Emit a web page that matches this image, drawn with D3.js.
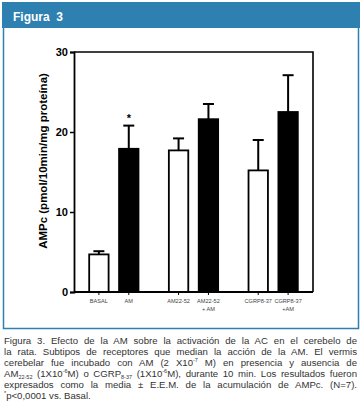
<!DOCTYPE html>
<html><head><meta charset="utf-8">
<script src="https://cdn.jsdelivr.net/npm/d3@7"></script>
<style>
html,body{margin:0;padding:0;background:#fff;}
svg{display:block;font-family:"Liberation Sans",Arial,Helvetica,sans-serif;}
</style></head>
<body>
<svg id="c" width="363" height="412"></svg>
<script>
const groups = ["basal", "am2252", "cgrp837"];
const categories = ["BASAL", "AM", "AM22-52", "AM22-52|+ AM", "CGRP8-37", "CGRP8-37|+AM"];
const groupOf = ["basal", "basal", "am2252", "am2252", "cgrp837", "cgrp837"];
const slotOf = [0, 1, 0, 1, 0, 1];
const means = [4.7, 17.9, 17.7, 21.6, 15.2, 22.5];
const errors = [0.4, 2.9, 1.5, 1.9, 3.8, 4.6];
const filled = [false, true, false, true, false, true];
const significance = ["", "*", "", "", "", ""];
const yTicks = [0, 10, 20, 30];
const yTitle = "AMPc (pmol/10min/mg proteína)";
const headerTitle = "Figura  3";

const blue = "#2d80b0";
const svg = d3.select("#c");

// header & frame
svg.append("rect").attr("x", 2).attr("y", 2).attr("width", 358).attr("height", 26).attr("fill", blue);
svg.append("text").attr("x", 13).attr("y", 21).attr("fill", "#fff").attr("font-weight", "bold")
  .attr("font-size", 12).style("white-space", "pre").text(headerTitle);
svg.append("path").attr("d", "M3.5,28 V328.5 H358.5 V28").attr("fill", "none").attr("stroke", blue).attr("stroke-width", 1.5);

// scales
const x0 = d3.scaleBand().domain(groups).range([74, 313]).paddingInner(0.25).paddingOuter(0.125);
const x1 = d3.scaleBand().domain([0, 1]).range([0, x0.bandwidth()]).paddingInner(0.3).paddingOuter(0.15);
const y = d3.scaleLinear().domain([0, 30]).range([292, 52]);
const cx = i => x0(groupOf[i]) + x1(slotOf[i]) + x1.bandwidth() / 2;

const g = svg.append("g");
const bw = x1.bandwidth();
means.forEach((v, i) => {
  const c = cx(i);
  g.append("line").attr("x1", c).attr("x2", c).attr("y1", y(v)).attr("y2", y(v + errors[i]))
    .attr("stroke", "#000").attr("stroke-width", 2);
  g.append("line").attr("x1", c - 5.5).attr("x2", c + 5.5).attr("y1", y(v + errors[i])).attr("y2", y(v + errors[i]))
    .attr("stroke", "#000").attr("stroke-width", 2);
  g.append("rect").attr("x", c - bw / 2 + 0.75).attr("width", bw - 1.5)
    .attr("y", y(v)).attr("height", y(0) - y(v))
    .attr("fill", filled[i] ? "#000" : "#fff").attr("stroke", "#000").attr("stroke-width", 1.8);
  if (significance[i]) {
    g.append("text").attr("x", c).attr("y", y(v + errors[i]) - 4).attr("text-anchor", "middle")
      .attr("font-size", 11).attr("font-weight", "bold").text(significance[i]);
  }
});

svg.append("path").attr("d", `M74,${y(30)} H313 V${y(0)}`).attr("fill", "none").attr("stroke", "#000").attr("stroke-width", 1.6);

const ya = svg.append("g").attr("transform", "translate(74,0)")
  .call(d3.axisLeft(y).tickValues(yTicks).tickSize(4).tickPadding(2));
ya.select(".domain").attr("stroke-width", 1.8);
ya.selectAll(".tick line").attr("stroke-width", 1.5);
ya.selectAll("text").attr("font-size", 11).attr("font-weight", "bold").attr("fill", "#000")
  .attr("font-family", "'Liberation Sans',Arial,sans-serif");

const xa = svg.append("g").attr("transform", `translate(0,${y(0)})`);
xa.append("line").attr("x1", 74).attr("x2", 313).attr("stroke", "#000").attr("stroke-width", 1.8);
categories.forEach((lab, i) => {
  const c = cx(i);
  xa.append("line").attr("x1", c).attr("x2", c).attr("y1", 0).attr("y2", 3).attr("stroke", "#000").attr("stroke-width", 1);
  const t = xa.append("text").attr("x", c).attr("y", 10.5).attr("text-anchor", "middle")
    .attr("font-size", 5.6).attr("fill", "#444");
  lab.split("|").forEach((s, k) => t.append("tspan").attr("x", c).attr("dy", k ? 8 : 0).text(s));
});

svg.append("text").attr("transform", `translate(47,${(y(0)+y(30))/2 - 11}) rotate(-90)`)
  .attr("text-anchor", "middle").attr("font-size", 11.5).attr("font-weight", "bold").text(yTitle);

// caption
const capLines = [
  [["Figura 3. Efecto de la AM sobre la activación de la AC en el cerebelo de"]],
  [["la rata. Subtipos de receptores que median la acción de la AM. El vermis"]],
  [["cerebelar fue incubado con AM (2 X10"], ["-7", "sup"], [" M) en presencia y ausencia de"]],
  [["AM"], ["22-52", "sub"], [" (1X10"], ["-6", "sup"], ["M) o CGRP"], ["8-37", "sub"], [" (1X10"], ["-6", "sup"], ["M), durante 10 min. Los resultados fueron"]],
  [["expresados como la media ± E.E.M. de la acumulación de AMPc. (N=7)."]],
  [["*", "sup"], ["p<0,0001 vs. Basal."]]
];
const justify = [true, true, true, true, true, false];
capLines.forEach((parts, li) => {
  const t = svg.append("text").attr("x", 4).attr("y", 343.5 + li * 11).attr("font-size", 9.6).attr("fill", "#333")
    .style("white-space", "pre");
  let shift = 0;
  parts.forEach(p => {
    const ts = t.append("tspan").text(p[0]);
    let own = 0;
    if (p[1] === "sup") { ts.attr("font-size", 5.5); own = -3.5; }
    if (p[1] === "sub") { ts.attr("font-size", 5.5); own = 2; }
    ts.attr("dy", own - shift);
    shift = own;
  });
  if (justify[li]) {
    const full = 353;
    const w = t.node().getComputedTextLength();
    const txt = parts.map(p => p[0]).join("");
    const spaces = (txt.match(/ /g) || []).length;
    if (spaces > 0) t.attr("word-spacing", (full - w) / spaces);
  }
});
</script>
</body></html>
